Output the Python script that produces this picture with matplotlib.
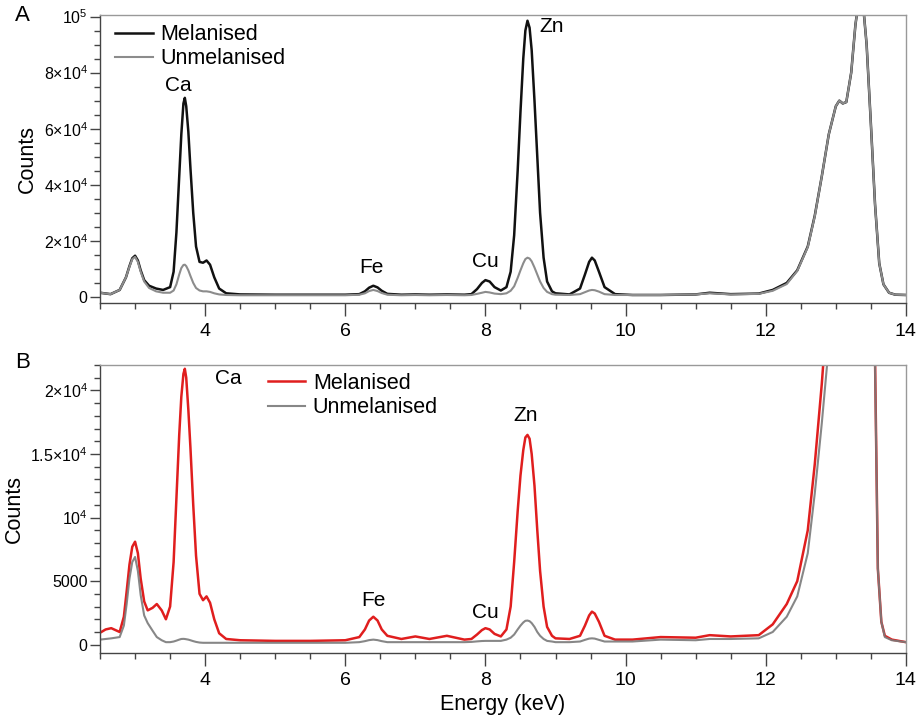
import numpy as np
import matplotlib
matplotlib.use("Agg")
import matplotlib.pyplot as plt
from matplotlib.ticker import MultipleLocator, FixedLocator

plt.rcParams['font.family'] = ['Liberation Sans', 'DejaVu Sans']
plt.rcParams['mathtext.default'] = 'regular'

# panel A - energy (keV) and counts
energy_a = ([2.5, 2.65, 2.78, 2.87, 2.92, 2.96, 3.0, 3.04, 3.08, 3.13, 3.2, 3.3, 3.4]
            + [3.5, 3.55, 3.59, 3.63, 3.66, 3.69, 3.71, 3.73, 3.76, 3.79, 3.83, 3.87, 3.92,
               3.97, 4.02, 4.07, 4.13, 4.2, 4.3]
            + [4.5, 5.0, 5.5, 6.0, 6.2, 6.28, 6.34, 6.4, 6.46, 6.52, 6.6, 6.8, 7.0, 7.2, 7.45,
               7.7, 7.8, 7.88, 7.95, 8.0, 8.06, 8.13, 8.22]
            + [8.3, 8.36, 8.41, 8.46, 8.5, 8.54, 8.57, 8.6, 8.63, 8.66, 8.7, 8.74, 8.78, 8.83,
               8.88, 8.95, 9.0]
            + [9.2, 9.35, 9.42, 9.48, 9.52, 9.56, 9.62, 9.7, 9.85]
            + [10.1, 10.5, 11.0, 11.2, 11.5, 11.9, 12.1, 12.3, 12.45, 12.6, 12.7, 12.8, 12.9,
               13.0, 13.05, 13.1, 13.15, 13.22, 13.28, 13.34, 13.39, 13.44, 13.5, 13.56, 13.62,
               13.68, 13.76, 13.85, 14.0])
mel_a = ([1500, 1000, 2500, 7000, 11000, 13800, 14700, 13000, 9500, 6000, 4000, 3000, 2500]
         + [3500, 9000, 23000, 43000, 58000, 69000, 71000, 68000, 59000, 46000, 30000, 18000,
            12500, 12200, 13000, 11500, 7000, 3000, 1300]
         + [900, 800, 800, 800, 1000, 2000, 3300, 4000, 3400, 2200, 1100, 800, 900, 800, 900,
            800, 1000, 2800, 5000, 6000, 5500, 3500, 2300]
         + [3500, 9000, 22000, 45000, 66000, 85000, 95000, 98500, 96000, 88000, 70000, 50000,
            30000, 14000, 5500, 2000, 1300]
         + [900, 3000, 8000, 12500, 14000, 13000, 9000, 3500, 1000]
         + [700, 700, 900, 1500, 1000, 1200, 2500, 5000, 9500, 18000, 29000, 43000, 58000,
            68000, 70000, 69000, 69500, 80000, 97000, 108000, 104000, 90000, 62000, 33000,
            12000, 4500, 1500, 800, 700])
unmel_a = ([1500, 1000, 2500, 7000, 10800, 13500, 14300, 12500, 9000, 5500, 3200, 2000, 1500]
           + [1500, 2300, 4500, 8000, 10300, 11400, 11500, 11000, 9500, 7500, 5000, 3200, 2300,
              2000, 2000, 1800, 1300, 900, 700]
           + [600, 600, 600, 600, 800, 1300, 2100, 2500, 2100, 1400, 800, 600, 700, 600, 700,
              600, 700, 1100, 1500, 1800, 1600, 1200, 1000]
           + [1300, 2200, 3800, 6800, 9500, 12000, 13500, 14000, 13700, 12700, 10500, 8000,
              5500, 3200, 1800, 1000, 800]
           + [700, 1000, 1700, 2300, 2500, 2400, 1900, 1000, 700]
           + [700, 700, 900, 1300, 900, 1100, 2200, 4600, 9300, 17800, 28800, 43000, 58000,
              68000, 70000, 69000, 69500, 80000, 97000, 108000, 104000, 90000, 62000, 33000,
              12000, 4500, 1500, 800, 700])

# panel B
energy_b = ([2.5, 2.58, 2.66, 2.78, 2.84, 2.88, 2.92, 2.96, 3.0, 3.04, 3.08, 3.13, 3.18, 3.25,
             3.31, 3.38, 3.44]
            + [3.5, 3.55, 3.59, 3.63, 3.66, 3.69, 3.71, 3.73, 3.76, 3.79, 3.83, 3.87, 3.92,
               3.97, 4.02, 4.07, 4.13, 4.2, 4.3]
            + [4.5, 5.0, 5.5, 6.0, 6.2, 6.28, 6.34, 6.4, 6.46, 6.52, 6.6, 6.8, 7.0, 7.2, 7.45,
               7.7, 7.8, 7.88, 7.95, 8.0, 8.06, 8.13, 8.22]
            + [8.3, 8.36, 8.41, 8.46, 8.5, 8.54, 8.57, 8.6, 8.63, 8.66, 8.7, 8.74, 8.78, 8.83,
               8.88, 8.95, 9.0]
            + [9.2, 9.35, 9.42, 9.48, 9.52, 9.56, 9.62, 9.7, 9.85]
            + [10.1, 10.5, 11.0, 11.2, 11.5, 11.9, 12.1, 12.3, 12.45, 12.6, 12.7, 12.8, 12.9,
               13.0, 13.2, 13.4, 13.5, 13.56, 13.6, 13.65, 13.7, 13.8, 14.0])
mel_b = ([940, 1200, 1300, 1000, 2200, 4200, 6300, 7700, 8100, 7200, 5200, 3400, 2700, 2900,
          3200, 2700, 2000]
         + [3000, 6500, 11500, 16500, 19500, 21300, 21700, 21000, 18500, 15500, 11000, 7000,
            4000, 3500, 3800, 3300, 2000, 900, 450]
         + [350, 300, 300, 350, 600, 1200, 1900, 2200, 1900, 1200, 700, 450, 650, 450, 700,
            400, 450, 800, 1150, 1300, 1200, 850, 650]
         + [1200, 3000, 6500, 10500, 13300, 15300, 16300, 16500, 16200, 15000, 12500, 9000,
            5800, 3000, 1400, 700, 500]
         + [450, 700, 1500, 2300, 2600, 2450, 1800, 700, 400]
         + [400, 600, 550, 750, 650, 750, 1600, 3200, 5000, 9000, 14200, 20500, 28000, 35000,
            50000, 60000, 40000, 22500, 6000, 1800, 700, 400, 200])
unmel_b = ([400, 450, 500, 600, 1500, 3200, 5200, 6500, 6900, 5800, 3900, 2300, 1700, 1100,
            600, 350, 200]
           + [200, 250, 320, 400, 450, 460, 450, 430, 400, 350, 280, 220, 170, 150, 150, 150,
              150, 150, 150]
           + [150, 150, 150, 150, 200, 280, 360, 400, 360, 280, 200, 200, 200, 200, 200, 200,
              220, 260, 290, 300, 300, 300, 300]
           + [400, 550, 800, 1200, 1500, 1750, 1880, 1900, 1850, 1700, 1400, 1000, 700, 450,
              300, 250, 200]
           + [200, 250, 380, 480, 500, 480, 380, 250, 250]
           + [250, 400, 350, 450, 450, 500, 1000, 2200, 3800, 7200, 11900, 17400, 23500, 30000,
              45000, 55000, 38000, 22000, 6000, 1800, 600, 350, 200])

peaks = ['Ca', 'Fe', 'Cu', 'Zn']
peak_pos_a = [(3.61, 75500), (6.37, 10500), (8.0, 12500), (8.95, 96500)]
peak_pos_b = [(4.33, 20900), (6.4, 3500), (8.0, 2500), (8.58, 18000)]

ylabels_a = ['0', r'$2{\times}10^{4}$', r'$4{\times}10^{4}$', r'$6{\times}10^{4}$',
             r'$8{\times}10^{4}$', r'$10^{5}$']
ylabels_b = ['0', '5000', r'$10^{4}$', r'$1.5{\times}10^{4}$', r'$2{\times}10^{4}$']

fig = plt.figure(figsize=(9.22, 7.2), dpi=100)
ax_a = fig.add_axes([0.1085, 0.579, 0.874, 0.400])
ax_b = fig.add_axes([0.1085, 0.0931, 0.874, 0.400])


def style_axes(ax, major_y, minor_y, labels):
    ax.set_xlim(2.5, 14)
    ax.xaxis.set_major_locator(FixedLocator([4, 6, 8, 10, 12, 14]))
    ax.xaxis.set_minor_locator(MultipleLocator(0.5))
    ax.yaxis.set_major_locator(FixedLocator(major_y))
    ax.yaxis.set_minor_locator(MultipleLocator(minor_y))
    ax.set_yticklabels(labels)
    ax.tick_params(axis='x', which='major', length=9, width=1, pad=5, labelsize=14,
                   color='#444')
    ax.tick_params(axis='x', which='minor', length=4, width=1, color='#444')
    ax.tick_params(axis='y', which='major', length=7, width=1, pad=2, labelsize=11.5,
                   color='#444')
    ax.tick_params(axis='y', which='minor', length=4, width=1, color='#444')
    for s in ['top', 'right']:
        ax.spines[s].set_color('#999999')
        ax.spines[s].set_linewidth(1)
    for s in ['left', 'bottom']:
        ax.spines[s].set_color('#444444')
        ax.spines[s].set_linewidth(1)
    ax.set_ylabel('Counts', fontsize=15.5, labelpad=4)


# Panel A
ax_a.plot(energy_a, mel_a, color='#111111', lw=1.8, label='Melanised')
ax_a.plot(energy_a, unmel_a, color='#8c8c8c', lw=1.5, label='Unmelanised')
ax_a.set_ylim(-2200, 100500)
style_axes(ax_a, [0, 20000, 40000, 60000, 80000, 100000], 5000, ylabels_a)
ax_a.legend(loc='upper left', bbox_to_anchor=(0.0186, 0.969), frameon=False,
            borderpad=0, borderaxespad=0, handlelength=1.75, handletextpad=0.35,
            labelspacing=0.15, fontsize=15.5)
for name, (x, y) in zip(peaks, peak_pos_a):
    ax_a.text(x, y, name, fontsize=15, ha='center', va='center')
fig.text(0.024, 0.979, 'A', fontsize=16, ha='center', va='center')

# Panel B
ax_b.plot(energy_b, mel_b, color='#e01e1e', lw=1.8, label='Melanised')
ax_b.plot(energy_b, unmel_b, color='#7a7a7a', lw=1.5, alpha=0.9, label='Unmelanised')
ax_b.set_ylim(-650, 22000)
style_axes(ax_b, [0, 5000, 10000, 15000, 20000], 1000, ylabels_b)
ax_b.legend(loc='upper left', bbox_to_anchor=(0.208, 0.972), frameon=False,
            borderpad=0, borderaxespad=0, handlelength=1.75, handletextpad=0.35,
            labelspacing=0.15, fontsize=15.5)
for name, (x, y) in zip(peaks, peak_pos_b):
    ax_b.text(x, y, name, fontsize=15, ha='center', va='center')
ax_b.set_xlabel('Energy (keV)', fontsize=15.5, labelpad=3)
fig.text(0.024, 0.497, 'B', fontsize=16, ha='center', va='center')

fig.savefig('out.png', dpi=100)
